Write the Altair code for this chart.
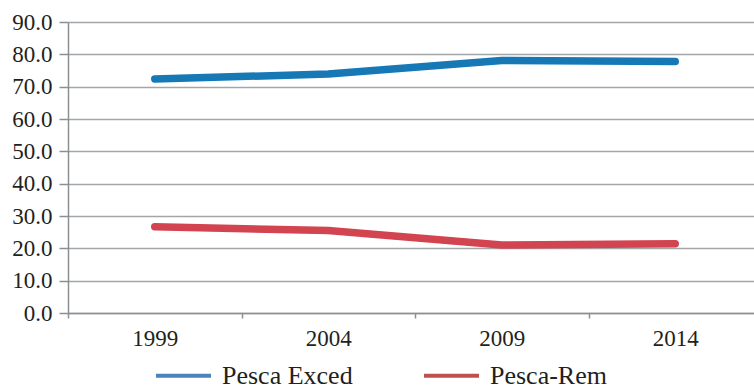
import altair as alt
import pandas as pd

# Survey years (category axis)
years = ["1999", "2004", "2009", "2014"]

# Share of each fishery group (%)
series_names = ["Pesca Exced", "Pesca-Rem"]
pesca_exced = [72.4, 73.9, 78.1, 77.8]
pesca_rem = [26.7, 25.5, 21.0, 21.4]

y_ticks = [0, 10, 20, 30, 40, 50, 60, 70, 80, 90]
line_colors = ["#1679b6", "#d2444f"]
legend_colors = ["#4f81bd", "#c0504d"]

rows = []
for name, values in zip(series_names, [pesca_exced, pesca_rem]):
    for yr, v in zip(years, values):
        rows.append({"Año": yr, "Valor": v, "Serie": name})
df = pd.DataFrame(rows)

FONT = "Liberation Serif"
TEXT = "#231f20"
AXIS_GRAY = "#8c8f92"

x_scale = alt.Scale(range=[0, 694], paddingInner=0, paddingOuter=0)
y_scale = alt.Scale(domain=[0, 90], nice=False)

x_enc = alt.X(
    "Año:N",
    sort=years,
    title=None,
    scale=x_scale,
    axis=alt.Axis(
        labelAngle=0,
        labelFont=FONT,
        labelFontSize=23,
        labelColor=TEXT,
        labelPadding=9,
        tickSize=5,
        tickBand="extent",
        tickColor=AXIS_GRAY,
        domainColor=AXIS_GRAY,
        domainWidth=1.5,
        tickWidth=1.5,
        grid=False,
    ),
)

y_enc = alt.Y(
    "Valor:Q",
    title=None,
    scale=y_scale,
    axis=alt.Axis(
        values=y_ticks,
        format=".1f",
        labelFont=FONT,
        labelFontSize=23,
        labelColor=TEXT,
        labelPadding=7,
        tickSize=9,
        tickColor=AXIS_GRAY,
        domainColor=AXIS_GRAY,
        domainWidth=1.5,
        tickWidth=1.5,
        gridColor="#a3a6a8",
        gridWidth=1.5,
    ),
)

# The two series as thick lines
lines = alt.Chart(df).mark_line(
    strokeWidth=7.5, strokeCap="round", strokeJoin="round"
).encode(
    x=x_enc,
    y=y_enc,
    color=alt.Color(
        "Serie:N",
        sort=series_names,
        scale=alt.Scale(domain=series_names, range=line_colors),
        legend=None,
    ),
)

# Hidden layer that only carries the legend key (lighter swatch colours)
legend_layer = alt.Chart(df).mark_line(opacity=0).encode(
    x=alt.X("Año:N", sort=years, axis=None),
    y=alt.Y("Valor:Q", axis=None),
    stroke=alt.Stroke(
        "Serie:N",
        sort=series_names,
        scale=alt.Scale(domain=series_names, range=legend_colors),
        legend=alt.Legend(
            title=None,
            orient="none",
            direction="horizontal",
            legendX=86,
            legendY=324,
            symbolType="stroke",
            symbolSize=3025,
            symbolStrokeWidth=4,
            symbolOpacity=1,
            labelFont=FONT,
            labelFontSize=26,
            labelColor=TEXT,
            labelOffset=9,
            columnPadding=63,
            padding=0,
            labelLimit=300,
        ),
    ),
)

chart = alt.layer(lines, legend_layer).resolve_scale(
    color="independent", stroke="independent"
).resolve_axis(
    x="independent", y="independent"
).properties(
    width=686,
    height=291,
    background="white",
    autosize=alt.AutoSizeParams(type="none"),
    padding={"left": 68, "top": 22, "right": 0, "bottom": 73},
).configure_view(stroke=None)

chart.save("out.html", embed_options={"renderer": "svg", "actions": False})
